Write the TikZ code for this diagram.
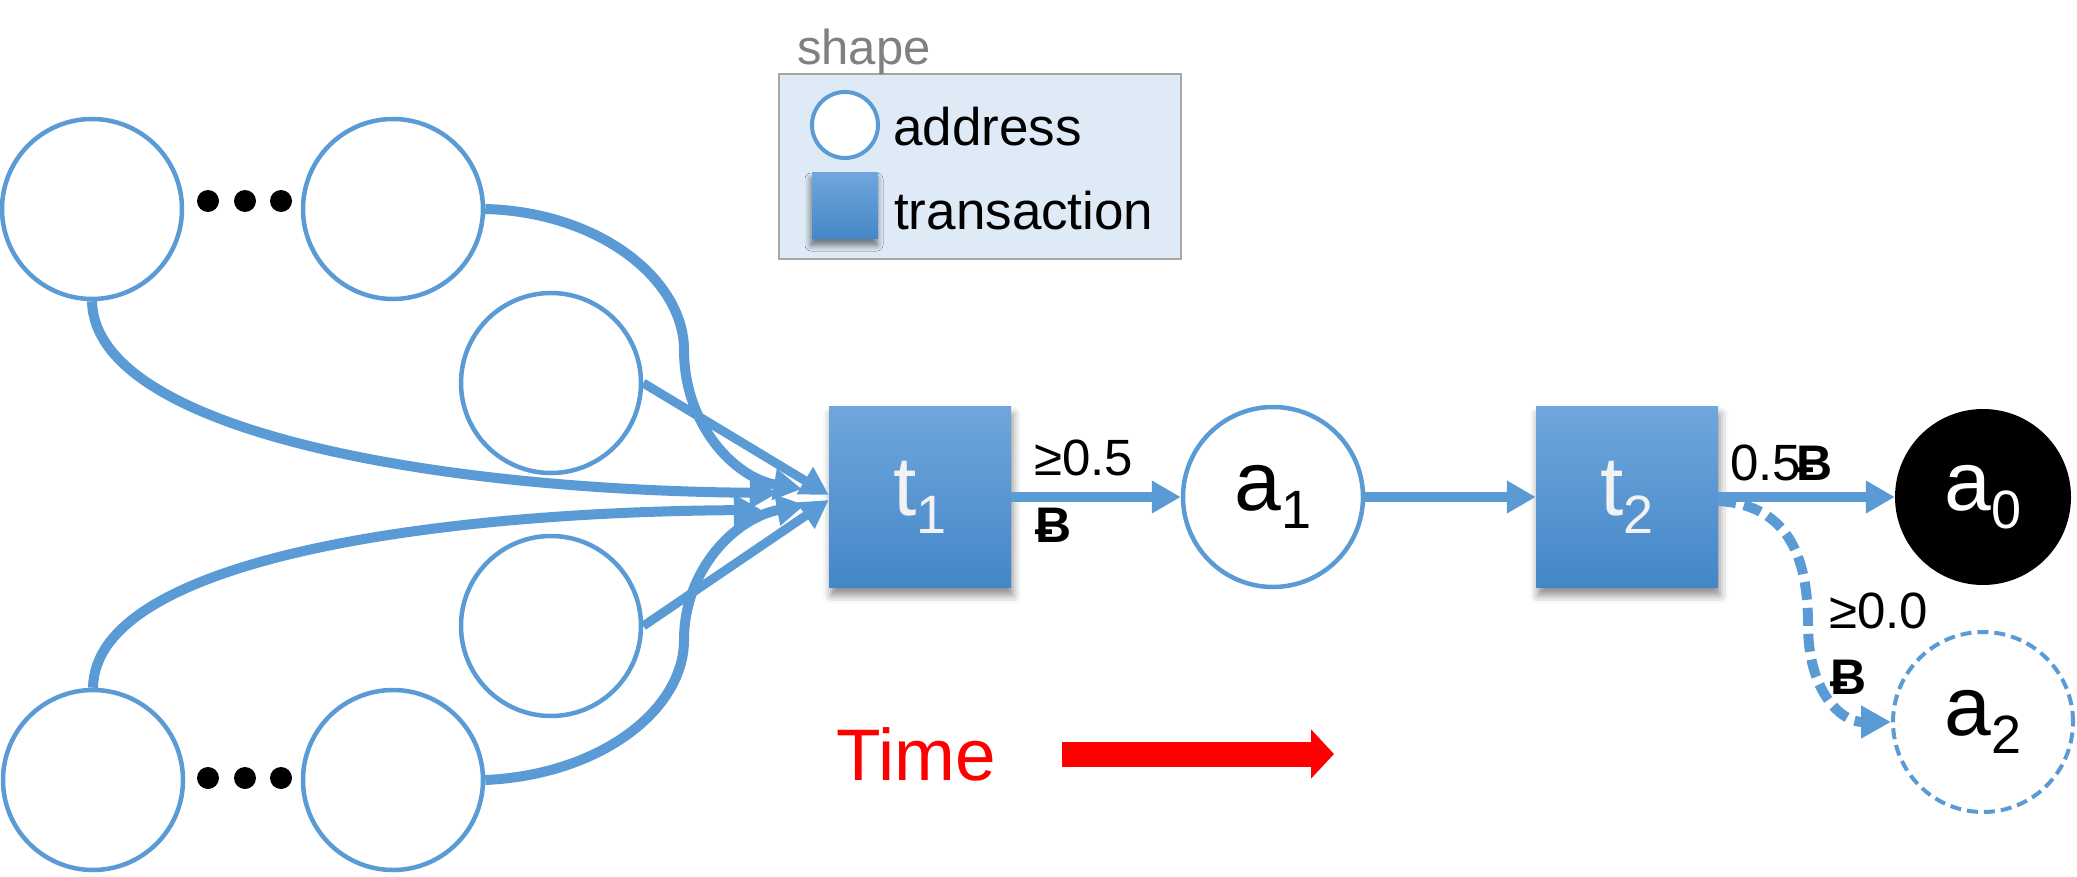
\documentclass[tikz,border=0pt]{standalone}
\usepackage{fontspec}
\setmainfont{Liberation Sans}
\newfontfamily\btcfont{Liberation Sans}
\usetikzlibrary{arrows.meta,shadows.blur,calc}
\definecolor{lineblue}{RGB}{91,155,213}
\definecolor{boxtop}{RGB}{112,166,220}
\definecolor{boxbot}{RGB}{67,135,200}
\definecolor{legfill}{RGB}{222,234,246}
\definecolor{leggray}{RGB}{166,166,166}
\definecolor{shapegray}{RGB}{128,128,128}
\definecolor{boxtext}{RGB}{242,242,242}
\newcommand{\sublbl}[2]{\fontsize{84}{84}\selectfont #1\raisebox{-18pt}{\fontsize{54}{54}\selectfont #2}}
\newcommand{\btc}{{\btcfont\bfseries\fontsize{50}{50}\selectfont Ƀ}}
\tikzset{
  addr/.style={circle, draw=lineblue, line width=4.5pt, fill=white, minimum size=180pt, inner sep=0pt},
  txbox/.style={rectangle, top color=boxtop, bottom color=boxbot, minimum width=182pt, minimum height=181pt, inner sep=0pt, text=boxtext,
    blur shadow={shadow xshift=2pt, shadow yshift=-8pt, shadow blur radius=8pt, shadow opacity=45}},
  dotnode/.style={circle, fill=black, minimum size=22pt, inner sep=0pt},
  inarrow/.style={draw=lineblue, line width=10pt, -{Triangle[length=28pt,width=30pt]}},
  mainarrow/.style={draw=lineblue, line width=10pt, -{Triangle[length=29pt,width=31pt]}},
  lbl/.style={anchor=base west, inner sep=0pt, font=\fontsize{51}{51}\selectfont},
  btclbl/.style={anchor=base west, inner sep=0pt},
}
\begin{document}
\begin{tikzpicture}[x=1pt,y=-1pt]
\useasboundingbox (0,0) rectangle (2077,877);

% legend
\node[draw=leggray, line width=2.7pt, fill=legfill, minimum width=402pt, minimum height=185pt, inner sep=0pt] (legend) at (980,166.5) {};
\node[anchor=base west, inner sep=0pt, text=shapegray, font=\fontsize{49}{49}\selectfont] (legtitle) at (797,65) {shape};
\node[addr, line width=4pt, minimum size=66pt] (legaddr) at (845,125) {};
\node[txbox, minimum width=66pt, minimum height=66pt, blur shadow={shadow xshift=-1pt, shadow yshift=-6pt, shadow blur radius=6pt, shadow opacity=30}] (legtx) at (845,206) {};
\node[anchor=base west, inner sep=0pt, font=\fontsize{53}{53}\selectfont] (legaddrtxt) at (893,146) {address};
\node[anchor=base west, inner sep=0pt, font=\fontsize{53}{53}\selectfont] (legtxtxt) at (894,230) {transaction};

% input addresses
\node[addr] (c1) at (92,209) {};
\node[addr] (c2) at (393,209) {};
\node[addr] (c3) at (551,383) {};
\node[addr] (c4) at (551,626) {};
\node[addr] (c5) at (93,780) {};
\node[addr] (c6) at (393,780) {};
\node[dotnode] (d1) at (208,201) {};
\node[dotnode] (d2) at (245,201) {};
\node[dotnode] (d3) at (281,201) {};
\node[dotnode] (d4) at (208,778) {};
\node[dotnode] (d5) at (245,778) {};
\node[dotnode] (d6) at (281,778) {};

% main chain
\node[txbox] (t1) at (920,497) {\sublbl{t}{1}};
\node[addr] (a1) at (1273,497) {\sublbl{a}{1}};
\node[txbox] (t2) at (1627,497) {\sublbl{t}{2}};
\node[circle, fill=black, minimum size=176pt, inner sep=0pt, text=white] (a0) at (1983,497) {\sublbl{a}{0}};
\node[addr, line width=4pt, dash pattern=on 11pt off 6pt] (a2) at (1983,722) {\sublbl{a}{2}};

% connectors into t1
\draw[inarrow] (c2.east) .. controls (600,212) and (684,280) .. (684,350)
  .. controls (684,425) and (735,478) .. ($(t1.west)+(-27,-8)$);
\draw[inarrow] (c1.south) .. controls (95,430) and (430,490) .. ($(t1.west)+(-51,-4)$);
\draw[inarrow, line width=9pt] (c3.east) -- ($(t1.west)+(0,-2)$);
\draw[inarrow, line width=9pt] (c4.east) -- ($(t1.west)+(0,3)$);
\draw[inarrow] (c5.north) .. controls (95,560) and (430,512) .. ($(t1.west)+(-67,13)$);
\draw[inarrow] (c6.east) .. controls (600,775) and (684,710) .. (684,640)
  .. controls (684,570) and (735,518) .. ($(t1.west)+(-24,8)$);

% chain arrows
\draw[mainarrow] (t1.east) -- (a1.west);
\draw[mainarrow] (a1.east) -- (t2.west);
\draw[mainarrow] (t2.east) -- (a0.west);
\draw[draw=lineblue, line width=10pt, dash pattern=on 18pt off 8pt, -{Triangle[length=30pt,width=31pt]}]
  ($(t2.east)+(0,4)$) .. controls (1790,505) and (1808,560) .. (1808,625)
  .. controls (1808,690) and (1840,722) .. (a2.west);

% labels
\node[lbl] (l1) at (1034,475) {≥0.5};
\node[btclbl] (l1b) at (1035,542) {\btc};
\node[lbl] (l2) at (1730,480) {0.5\kern-5pt\btc};
\node[lbl] (l3) at (1829,628) {≥0.0};
\node[btclbl] (l3b) at (1830,694) {\btc};

% time
\node[anchor=base west, inner sep=0pt, text=red, font=\fontsize{73}{73}\selectfont] (time) at (836,780) {Time};
\coordinate (tstart) at (1062,754);
\coordinate (tend) at (1334,754);
\draw[red, line width=25pt, -{Triangle[length=23pt,width=48pt]}] (tstart) -- (tend);
\end{tikzpicture}
\end{document}
